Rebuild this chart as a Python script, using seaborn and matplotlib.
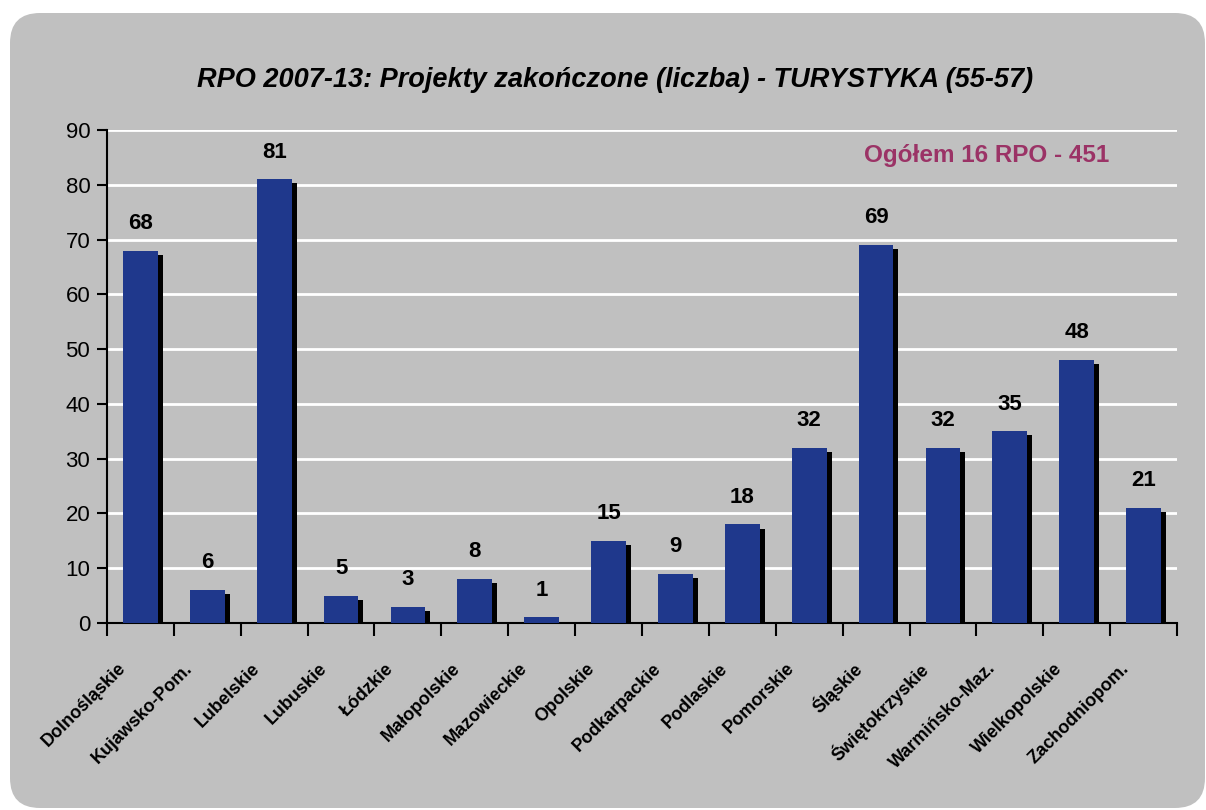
import matplotlib
matplotlib.use("Agg")
import matplotlib.pyplot as plt
import matplotlib.patheffects as pe
from matplotlib.patches import FancyBboxPatch
from matplotlib.transforms import ScaledTranslation
import pandas as pd
import seaborn as sns

# data
regions = ["Dolnośląskie", "Kujawsko-Pom.", "Lubelskie", "Lubuskie", "Łódzkie",
           "Małopolskie", "Mazowieckie", "Opolskie", "Podkarpackie", "Podlaskie",
           "Pomorskie", "Śląskie", "Świętokrzyskie", "Warmińsko-Maz.",
           "Wielkopolskie", "Zachodniopom."]
projects = [68, 6, 81, 5, 3, 8, 1, 15, 9, 18, 32, 69, 32, 35, 48, 21]
y_ticks = [0, 10, 20, 30, 40, 50, 60, 70, 80, 90]

title = "RPO 2007-13: Projekty zakończone (liczba) - TURYSTYKA (55-57)"
total_note = "Ogółem 16 RPO - 451"

df = pd.DataFrame({"region": regions, "projects": projects})

sns.set_style("white")
plt.rcParams["font.family"] = ["Liberation Sans", "DejaVu Sans"]
plt.rcParams["text.color"] = "black"
plt.rcParams["xtick.color"] = "black"
plt.rcParams["ytick.color"] = "black"

bg = "#C0C0C0"
bar_col = "#1F388C"

fig = plt.figure(figsize=(12.06, 8.1), dpi=100, facecolor="white")

# rounded grey panel behind everything
panel = FancyBboxPatch((0.35, 0.27), 11.45, 7.45,
                       boxstyle="round,pad=0.25,rounding_size=0.3",
                       transform=fig.dpi_scale_trans, facecolor=bg,
                       edgecolor="none", zorder=-10)
fig.patches.append(panel)

ax = fig.add_axes([0.0887, 0.2309, 0.8873, 0.6086])
ax.set_facecolor("none")
ax.set_zorder(5)

sns.barplot(data=df, x="region", y="projects", color=bar_col, saturation=1,
            width=0.52, ax=ax, zorder=3, edgecolor="none", linewidth=0)

# drop shadow like the old excel charts
for p in ax.patches:
    p.set_path_effects([pe.SimplePatchShadow(offset=(3.6, -3.0), shadow_rgbFace="black", alpha=1),
                        pe.Normal()])

ax.bar_label(ax.containers[0], fmt="%d", padding=12, fontsize=16, fontweight="bold",
             color="black")

ax.set_ylim(0, 90)
ax.set_xlim(-0.5, len(regions) - 0.5)
ax.set_yticks(y_ticks)
ax.yaxis.grid(True, color="white", linewidth=2, zorder=0)
ax.set_axisbelow(True)

# ticks between categories, labels under the bars
ax.set_xticks([i - 0.5 for i in range(len(regions) + 1)])
ax.set_xticklabels([])
ax.set_xticks(range(len(regions)), minor=True)
ax.set_xticklabels(regions, minor=True, rotation=45, ha="right", va="center",
                   rotation_mode="anchor", fontsize=13, fontweight="bold")
ax.tick_params(axis="x", which="minor", bottom=True, length=0, pad=0)
ax.tick_params(axis="x", which="major", bottom=True, direction="out", length=9,
               width=1.5, color="black")
ax.tick_params(axis="y", left=True, direction="out", length=7, width=1.5, color="black",
               labelsize=16, pad=5)

shift = ScaledTranslation(-17 / 100, -43 / 100, fig.dpi_scale_trans)
for lab in ax.get_xticklabels(minor=True):
    lab.set_transform(lab.get_transform() + shift)

for side in ["top", "right"]:
    ax.spines[side].set_visible(False)
for side in ["left", "bottom"]:
    ax.spines[side].set_color("black")
    ax.spines[side].set_linewidth(1.5)
ax.set_xlabel("")
ax.set_ylabel("")

ax.text(0.937, 0.949, total_note, transform=ax.transAxes, ha="right", va="center",
        fontsize=17.5, fontweight="bold", color="#9B3366")

fig.text(0.51, 0.901, title, ha="center", va="center", fontsize=19.5,
         fontweight="bold", fontstyle="italic", color="black")

fig.savefig("out.png", dpi=100)
